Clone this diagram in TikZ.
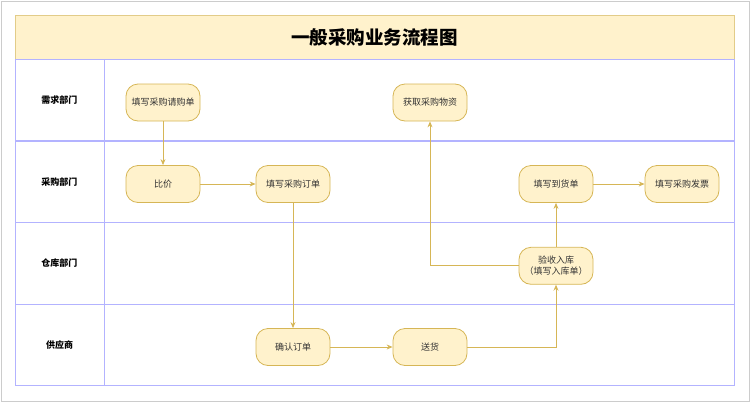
\documentclass[tikz,border=0pt]{standalone}
\usepackage{fontspec}
\setmainfont{Noto Sans CJK SC}
\usetikzlibrary{arrows.meta}
\definecolor{boxfill}{HTML}{FFF2CC}
\definecolor{boxline}{HTML}{D6B656}
\definecolor{laneline}{HTML}{B3B3FF}

\begin{document}
\begin{tikzpicture}
  [x=1pt,y=-1pt,
   every node/.style={font=\fontsize{9}{11}\selectfont},
   act/.style={rounded corners=12pt,draw=boxline,fill=boxfill,line width=0.8pt,
     minimum width=74pt,minimum height=37pt,align=center,text=black!80},
   flow/.style={draw=boxline,line width=0.8pt,-{Stealth[length=6pt,width=5pt,inset=2pt]}}]
  \useasboundingbox (0,0) rectangle (750,402);
  \draw[black!20,line width=1pt] (1,1) rectangle (749,401);
  % title
  \draw[boxline!70,fill=boxfill,line width=0.8pt] (15,15) rectangle (734,59.5);
  \node[font=\fontsize{18.5}{22}\selectfont\bfseries] (title) at (374.5,37.5) {一般采购业务流程图};
  % lanes
  \foreach \lane/\y in {需求部门/59.5, 采购部门/141, 仓库部门/222.7, 供应商/304.3}
  {
    \draw[laneline,line width=1pt] (15,\y) rectangle (734,\y+81.4);
    \node[font=\fontsize{9}{11}\selectfont\bfseries] at (59.5,\y+40.7) {\lane};
  }
  \draw[laneline,line width=1pt] (104.3,59.5) -- (104.3,385.7);
  % steps
  \node[act] (req)  at (163,102.5) {填写采购请购单};
  \node[act] (get)  at (430,102.5) {获取采购物资};
  \node[act] (cmp)  at (163,184)   {比价};
  \node[act] (ord)  at (293,184)   {填写采购订单};
  \node[act] (arr)  at (556,184)   {填写到货单};
  \node[act] (inv)  at (682,184)   {填写采购发票};
  \node[act] (chk)  at (556,265.8) {验收入库\\（填写入库单）};
  \node[act] (conf) at (293,347)   {确认订单};
  \node[act] (ship) at (430,347)   {送货};

\foreach \from/\to in
{req/cmp, cmp/ord, ord/conf, conf/ship, chk/arr, arr/inv}
    \draw[flow] (\from) -- (\to);
  \draw[flow] (ship) -| (chk);
  \draw[flow] (chk) -| (get);
\end{tikzpicture}
\end{document}
